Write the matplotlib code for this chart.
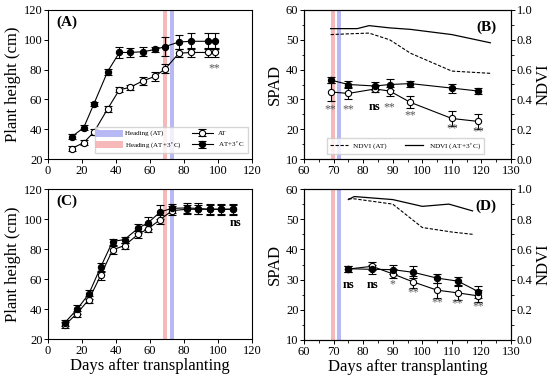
import numpy as np
import matplotlib
matplotlib.use("Agg")
import matplotlib.pyplot as plt
from matplotlib.ticker import MultipleLocator, FormatStrFormatter
from matplotlib.lines import Line2D

plt.rcParams['font.family'] = ['Liberation Serif', 'DejaVu Serif']
plt.rcParams['mathtext.fontset'] = 'stix'

# ---- (A) plant height, year 1 ----
a_x = [14, 21, 27, 35, 42, 48, 56, 63, 69, 77, 84, 94, 98]
a_at = [27, 31, 38, 53.5, 66.5, 68, 72.5, 75.5, 80.5, 91, 91.5, 91.5, 91.5]
a_at_err = [1.5, 1.5, 2, 2, 1.5, 2, 2.5, 3, 3, 2.5, 3, 3, 3]
a_hot = [35, 41, 57, 78.5, 91.5, 91.5, 92, 93.5, 95.5, 98.5, 99, 99, 99]
a_hot_err = [1.5, 1.5, 1.5, 2, 3.5, 3, 3, 2, 6.5, 5, 5.5, 5.5, 5.5]

# ---- (C) plant height, year 2 ----
c_x = [10, 17, 24, 31, 38, 45, 53, 59, 66, 73, 82, 88, 95, 102, 109]
c_at = [29.3, 37, 46.2, 62.4, 79.4, 82.3, 89.8, 93.6, 99.6, 105.6, 106.5, 106.5, 106.5, 106.5, 106.5]
c_at_err = [2, 2, 2.5, 3, 2.5, 2, 2.5, 2.5, 3, 3, 3, 3, 3, 3, 3]
c_hot = [31, 39.7, 50, 68, 85, 86.3, 93.8, 97.6, 104.7, 107.1, 107.4, 107, 106.5, 106.5, 106.5]
c_hot_err = [2, 3, 3, 3, 2, 2, 3, 4, 4.5, 3, 3.5, 3.5, 3.5, 3.5, 3.5]

# ---- (B) SPAD / NDVI, year 1 ----
b_x = [69, 75, 84, 89, 96, 110, 119]
b_at = [32.5, 32, 33.5, 32.8, 29, 23.6, 22.6]
b_at_err = [3, 2, 1, 1.5, 2, 2.5, 2.5]
b_hot = [36.5, 35, 34.5, 35, 35.3, 33.8, 32.8]
b_hot_err = [1, 1.3, 1.3, 1.7, 1, 1.5, 1]
b_marks = ['**', '**', 'ns', '**', '**', '**', '**']
b_mark_y = [26.5, 26.5, 27.5, 27.5, 24.5, 20.3, 19.3]
b_ndvi_at_x = [69, 75, 82, 89, 96, 110, 123]
b_ndvi_at = [0.835, 0.84, 0.845, 0.80, 0.71, 0.59, 0.575]
b_ndvi_hot_x = [69, 78, 82, 89, 96, 110, 123]
b_ndvi_hot = [0.875, 0.875, 0.895, 0.88, 0.87, 0.835, 0.78]

# ---- (D) SPAD / NDVI, year 2 ----
d_x = [75, 83, 90, 97, 105, 112, 119]
d_at = [33.5, 34.4, 31.9, 29.2, 26.5, 25.6, 24.6]
d_at_err = [1, 1.3, 1.5, 2, 2.5, 2.5, 2]
d_hot = [33.6, 33.4, 33.3, 32.4, 30.5, 29.5, 26]
d_hot_err = [1, 1.5, 1.5, 2, 1.5, 1.5, 2]
d_marks = ['ns', 'ns', '*', '**', '**', '**', '**']
d_mark_y = [28.3, 28.3, 28.3, 25.8, 22.5, 22, 21]
d_ndvi_at_x = [75, 77, 90, 100, 110, 117]
d_ndvi_at = [0.935, 0.935, 0.90, 0.745, 0.715, 0.70]
d_ndvi_hot_x = [75, 77, 90, 100, 109, 117]
d_ndvi_hot = [0.93, 0.95, 0.93, 0.885, 0.90, 0.855]

blue_band = '#b8b8f4'
red_band = '#f6b8b8'
star_col = '#555555'
label_size = 12
tick_size = 9

fig = plt.figure(figsize=(5.5, 3.79), dpi=100)
W, H = 550, 379


def add_ax(l, t, r, b):
	return fig.add_axes([l / W, 1 - b / H, (r - l) / W, (b - t) / H])


def style(ax):
	ax.tick_params(axis='both', which='major', labelsize=tick_size, direction='out', length=3, width=0.7, pad=1)
	ax.tick_params(axis='both', which='minor', direction='out', length=1.8, width=0.6)
	ax.tick_params(top=False, right=False)
	for s in ax.spines.values():
		s.set_linewidth(0.8)


def series(ax, x, y, e, filled):
	ax.errorbar(x, y, yerr=e, color='black', lw=0.8, elinewidth=0.8, capsize=3, capthick=0.8,
				marker='o', ms=4.5, mfc='black' if filled else 'white', mec='black', mew=0.8, zorder=3)


def height_panel(ax, x, at, at_e, hot, hot_e):
	ax.axvspan(67.5, 70, color=red_band, lw=0, zorder=1)
	ax.axvspan(71.6, 74.1, color=blue_band, lw=0, zorder=1)
	series(ax, x, at, at_e, False)
	series(ax, x, hot, hot_e, True)
	ax.set_xlim(0, 120)
	ax.set_ylim(20, 120)
	ax.xaxis.set_major_locator(MultipleLocator(20))
	ax.yaxis.set_major_locator(MultipleLocator(20))
	ax.set_ylabel('Plant height (cm)', fontsize=label_size, labelpad=2)
	style(ax)


def spad_panel(ax, x, at, at_e, hot, hot_e, marks, mark_y, nx1, n1, nx2, n2, label):
	ax.axvspan(69, 70.4, color=red_band, lw=0, zorder=1)
	ax.axvspan(71.1, 72.6, color=blue_band, lw=0, zorder=1)
	series(ax, x, at, at_e, False)
	series(ax, x, hot, hot_e, True)
	for xi, m, my in zip(x, marks, mark_y):
		if m == 'ns':
			ax.text(xi, my, m, ha='center', va='center', fontsize=9, fontweight='bold', color='black')
		else:
			ax.text(xi, my, m, ha='center', va='center', fontsize=8.5, color=star_col)
	ax.set_xlim(60, 130)
	ax.set_ylim(10, 60)
	ax.xaxis.set_major_locator(MultipleLocator(10))
	ax.xaxis.set_minor_locator(MultipleLocator(5))
	ax.yaxis.set_major_locator(MultipleLocator(10))
	ax.yaxis.set_minor_locator(MultipleLocator(5))
	ax.set_ylabel('SPAD', fontsize=label_size, labelpad=2)
	style(ax)
	ax2 = ax.twinx()
	ax2.plot(nx1, n1, color='black', lw=0.8, ls=(0, (3, 1.5)), label='NDVI (AT)')
	ax2.plot(nx2, n2, color='black', lw=0.9, label='NDVI (AT+3$^\\circ$C)')
	ax2.set_ylim(0, 1.0)
	ax2.yaxis.set_major_locator(MultipleLocator(0.2))
	ax2.yaxis.set_minor_locator(MultipleLocator(0.1))
	ax2.yaxis.set_major_formatter(FormatStrFormatter('%.1f'))
	ax2.tick_params(axis='y', which='major', labelsize=tick_size, direction='out', length=3, width=0.7, pad=1)
	ax2.tick_params(axis='y', which='minor', direction='out', length=1.8, width=0.6)
	ax2.set_ylabel('NDVI', fontsize=label_size, labelpad=2)
	ax.text(0.93, 0.93, label, transform=ax.transAxes, ha='right', va='top', fontsize=11, fontweight='bold')
	return ax2


axA = add_ax(48, 10, 252, 159)
height_panel(axA, a_x, a_at, a_at_err, a_hot, a_hot_err)
axA.text(98, 81, '**', ha='center', va='center', fontsize=8.5, color=star_col)
axA.text(0.04, 0.96, '(A)', transform=axA.transAxes, ha='left', va='top', fontsize=11, fontweight='bold')
handles = [
	Line2D([], [], color=blue_band, lw=5),
	Line2D([], [], color=red_band, lw=5),
	axA.containers[0],
	axA.containers[1],
]
labels = ['Heading (AT)', 'Heading (AT+3$^\\circ$C)', 'AT', 'AT+3$^\\circ$C']
axA.legend(handles, labels, ncol=2, loc='lower right', bbox_to_anchor=(0.995, 0.02), fontsize=5,
		   frameon=True, edgecolor='#cccccc', fancybox=False, handlelength=3, columnspacing=1.5,
		   borderpad=0.4, labelspacing=0.5, handletextpad=0.8)

axC = add_ax(48, 189, 252, 339)
height_panel(axC, c_x, c_at, c_at_err, c_hot, c_hot_err)
axC.text(110, 97.5, 'ns', ha='center', va='center', fontsize=9, fontweight='bold')
axC.text(0.04, 0.96, '(C)', transform=axC.transAxes, ha='left', va='top', fontsize=11, fontweight='bold')
axC.set_xlabel('Days after transplanting', fontsize=label_size, labelpad=1)

axB = add_ax(304, 10, 511, 159)
axB2 = spad_panel(axB, b_x, b_at, b_at_err, b_hot, b_hot_err, b_marks, b_mark_y,
				  b_ndvi_at_x, b_ndvi_at, b_ndvi_hot_x, b_ndvi_hot, '(B)')
axB2.legend(ncol=2, loc='lower center', bbox_to_anchor=(0.49, 0.01), fontsize=5.2, frameon=True,
			edgecolor='#cccccc', fancybox=False, handlelength=2.5, columnspacing=2.5)

axD = add_ax(304, 189, 511, 340)
spad_panel(axD, d_x, d_at, d_at_err, d_hot, d_hot_err, d_marks, d_mark_y,
		   d_ndvi_at_x, d_ndvi_at, d_ndvi_hot_x, d_ndvi_hot, '(D)')
axD.set_xlabel('Days after transplanting', fontsize=label_size, labelpad=1)

fig.savefig('out.png', dpi=100)
